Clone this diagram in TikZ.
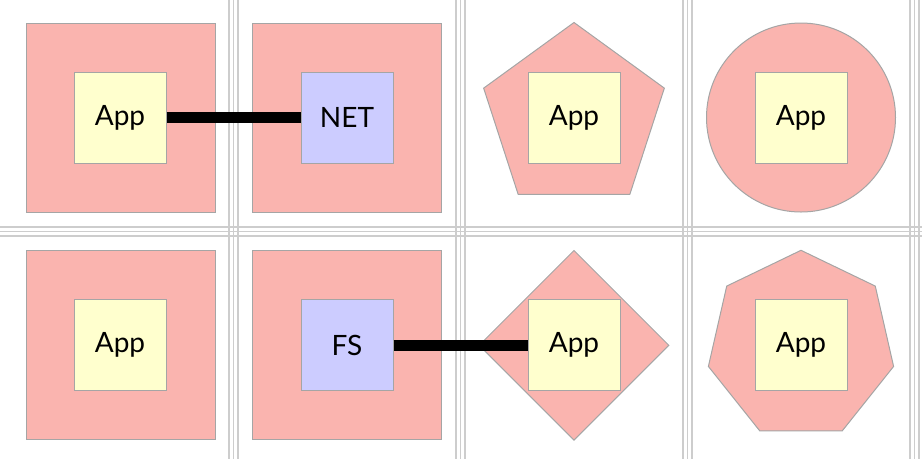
\documentclass[tikz,border=0pt]{standalone}
\usepackage{fontspec}
\setmainfont{Lato}
\usetikzlibrary{shapes.geometric}
\definecolor{pinkfill}{RGB}{250,180,175}
\definecolor{yelfill}{RGB}{255,255,206}
\definecolor{bluefill}{RGB}{204,204,255}
\definecolor{edgegray}{RGB}{165,165,165}
\definecolor{sepgray}{RGB}{205,205,205}
\tikzset{
  outer/.style={draw=edgegray, line width=1pt, fill=pinkfill, inner sep=0pt, minimum size=189pt},
  outersq/.style={outer, rectangle},
  appbox/.style={draw=edgegray, line width=1pt, fill=yelfill, rectangle, inner sep=0pt,
     minimum width=92pt, minimum height=91pt, font=\fontsize{28}{32}\selectfont},
  sysbox/.style={appbox, fill=bluefill},
  link/.style={line width=11pt, black},
  sep/.style={sepgray, line width=1.3pt},
}
\begin{document}
\begin{tikzpicture}[x=1pt,y=-1pt]
\useasboundingbox (0,0) rectangle (922,459);
% separators
\foreach \c in {233.5,460.5,687.5,914.5}{
  \foreach \d in {-4.5,0,4.5}{
    \draw[sep] (\c+\d,0) -- (\c+\d,459);
  }
}
\foreach \d in {-4.5,0,4.5}{
  \draw[sep] (0,231.5+\d) -- (922,231.5+\d);
}
% top row
\node[outersq] (o11) at (120.5,117.5) {};
\node[outersq] (o12) at (347,117.5) {};
\node[outer, regular polygon, regular polygon sides=5, minimum size=190pt] (o13) at (574,117.5) {};
\node[outer, circle, minimum size=189pt] (o14) at (801,117.5) {};
% bottom row
\node[outersq] (o21) at (120.5,345) {};
\node[outersq] (o22) at (347,345) {};
\node[outer, diamond, aspect=1, minimum width=190pt, minimum height=190pt] (o23) at (574,345.3) {};
\node[outer, regular polygon, regular polygon sides=7, minimum size=190pt] (o24) at (801,345.3) {};
% inner boxes
\node[appbox] (a11) at (120,117.5) {App};
\node[sysbox] (net) at (347,117.5) {NET};
\node[appbox] (a13) at (574,117.5) {App};
\node[appbox] (a14) at (801,118) {App};
\node[appbox] (a21) at (120,345.3) {App};
\node[sysbox] (fs) at (347,345.3) {FS};
\node[appbox] (a23) at (574,345.3) {App};
\node[appbox] (a24) at (801,345.3) {App};
% links
\draw[link] (a11.east) -- (net.west);
\draw[link] (fs.east) -- (a23.west);
\end{tikzpicture}
\end{document}
